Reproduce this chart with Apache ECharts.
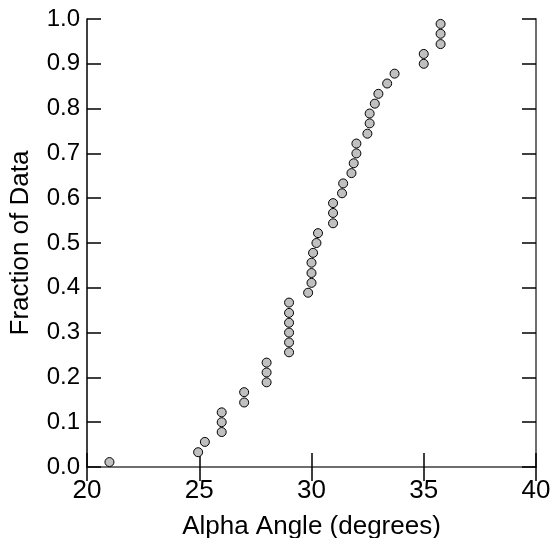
<!DOCTYPE html>
<html>
<head>
<meta charset="utf-8">
<script src="https://cdn.jsdelivr.net/npm/echarts@6/dist/echarts.min.js"></script>
<style>
html,body{margin:0;padding:0;background:#fff;}
#chart{width:553px;height:538px;}
</style>
</head>
<body>
<div id="chart"></div>
<script>
// Alpha angle values (degrees), sorted
var alphaAngles = [21.0, 24.95, 25.25, 26.0, 26.0, 26.0, 27.0, 27.0, 28.0, 28.0, 28.0,
  29.0, 29.0, 29.0, 29.0, 29.0, 29.0, 29.85, 30.0, 30.0, 30.0, 30.07, 30.22, 30.29,
  30.96, 30.96, 30.96, 31.36, 31.41, 31.78, 31.88, 32.0, 32.0, 32.49, 32.59, 32.59,
  32.82, 32.98, 33.37, 33.7, 35.0, 35.0, 35.75, 35.75, 35.75];
// Fraction of data
var fractions = [0.011, 0.033, 0.056, 0.078, 0.100, 0.122, 0.144, 0.167, 0.189, 0.211, 0.233,
  0.256, 0.278, 0.300, 0.322, 0.344, 0.367, 0.389, 0.411, 0.433, 0.456, 0.478, 0.500, 0.522,
  0.544, 0.567, 0.589, 0.611, 0.633, 0.656, 0.678, 0.700, 0.722, 0.744, 0.767, 0.789,
  0.811, 0.833, 0.856, 0.878, 0.900, 0.922, 0.944, 0.967, 0.989];
var xTitle = 'Alpha Angle (degrees)';
var yTitle = 'Fraction of Data';

var pts = alphaAngles.map(function (v, i) { return [v, fractions[i]]; });

var font = 'Liberation Sans, Arial, sans-serif';
var axisLineMain = { show: true, lineStyle: { color: '#000', width: 1.5 } };
var axisLineMirror = { show: true, lineStyle: { color: '#6e6e6e', width: 2 } };
var tick = { show: true, inside: true, length: 14, lineStyle: { color: '#000', width: 1.5 } };

var chart = echarts.init(document.getElementById('chart'), null, { renderer: 'canvas' });
chart.setOption({
  animation: false,
  backgroundColor: '#fff',
  grid: { left: 87, right: 17, top: 19, bottom: 71, containLabel: false, outerBoundsMode: 'none' },
  xAxis: [{
    type: 'value', min: 20, max: 40, interval: 5, position: 'bottom',
    name: xTitle, nameLocation: 'middle', nameGap: 47,
    nameTextStyle: { fontFamily: font, fontSize: 26, color: '#000' },
    axisLine: axisLineMain, axisTick: tick, splitLine: { show: false },
    axisLabel: { fontFamily: font, fontSize: 26, color: '#000', margin: 11 }
  }, {
    type: 'value', min: 20, max: 40, interval: 5, position: 'top',
    axisLine: axisLineMirror, axisTick: tick, splitLine: { show: false },
    axisLabel: { show: false }
  }],
  yAxis: [{
    type: 'value', min: 0, max: 1, interval: 0.1, position: 'left',
    name: yTitle, nameLocation: 'middle', nameGap: 53, nameRotate: 90,
    nameTextStyle: { fontFamily: font, fontSize: 26, color: '#000' },
    axisLine: axisLineMain, axisTick: tick, splitLine: { show: false },
    axisLabel: { fontFamily: font, fontSize: 24, color: '#000', margin: 7,
      formatter: function (v) { return v.toFixed(1); } }
  }, {
    type: 'value', min: 0, max: 1, interval: 0.1, position: 'right',
    axisLine: axisLineMirror, axisTick: tick, splitLine: { show: false },
    axisLabel: { show: false }
  }],
  series: [{
    type: 'scatter',
    xAxisIndex: 0, yAxisIndex: 0,
    data: pts,
    symbol: 'circle',
    symbolSize: 9,
    itemStyle: { color: '#c0c0c0', borderColor: '#000', borderWidth: 1, opacity: 1 },
    clip: false
  }]
});
</script>
</body>
</html>
